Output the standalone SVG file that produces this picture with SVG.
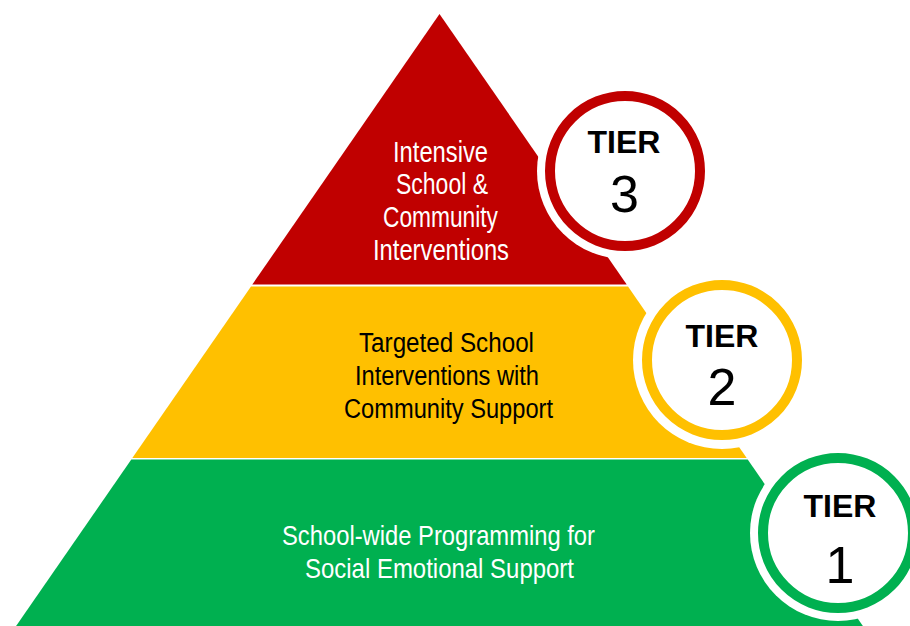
<svg xmlns="http://www.w3.org/2000/svg" width="910" height="626" viewBox="0 0 910 626">
  <style>
    .lbl { font-family: "Liberation Sans", Arial, sans-serif; text-anchor: middle; }
    .w { fill: #FFFFFF; }
    .k { fill: #000000; }
    .halo { fill: #FFFFFF; }
    .ring { fill: #FFFFFF; stroke-width: 10; }
    .tier { font-family: "Liberation Sans", Arial, sans-serif; font-weight: bold; font-size: 32px; text-anchor: middle; fill: #000000; }
    .num { font-family: "Liberation Sans", Arial, sans-serif; font-size: 52px; text-anchor: middle; fill: #000000; }
  </style>
  <rect width="910" height="626" fill="#FFFFFF"/>

  <g id="tier3-layer">
    <polygon points="439.5,14 626.7,284.5 252.3,284.5" fill="#C00000"/>
    <text class="lbl w" font-size="29" x="440.5" y="161.7" textLength="95" lengthAdjust="spacingAndGlyphs">Intensive</text>
    <text class="lbl w" font-size="29" x="442" y="193.5" textLength="92" lengthAdjust="spacingAndGlyphs">School &amp;</text>
    <text class="lbl w" font-size="29" x="440.5" y="226.7" textLength="115" lengthAdjust="spacingAndGlyphs">Community</text>
    <text class="lbl w" font-size="29" x="441" y="260" textLength="136" lengthAdjust="spacingAndGlyphs">Interventions</text>
  </g>

  <g id="tier2-layer">
    <polygon points="251,286.5 628,286.5 746.7,458 132.3,458" fill="#FFC000"/>
    <text class="lbl k" font-size="27" x="446.5" y="352" textLength="175" lengthAdjust="spacingAndGlyphs">Targeted School</text>
    <text class="lbl k" font-size="27" x="447" y="385" textLength="184" lengthAdjust="spacingAndGlyphs">Interventions with</text>
    <text class="lbl k" font-size="27" x="448.5" y="418" textLength="209" lengthAdjust="spacingAndGlyphs">Community Support</text>
  </g>

  <g id="tier1-layer">
    <polygon points="131.3,459.5 747.7,459.5 862.9,626 16.1,626" fill="#00B050"/>
    <text class="lbl w" font-size="28" x="438.5" y="545" textLength="313" lengthAdjust="spacingAndGlyphs">School-wide Programming for</text>
    <text class="lbl w" font-size="28" x="439.5" y="578" textLength="269" lengthAdjust="spacingAndGlyphs">Social Emotional Support</text>
  </g>

  <g id="badge-tier3">
    <circle class="halo" cx="625" cy="171" r="88"/>
    <circle class="ring" cx="625" cy="171" r="75" stroke="#C00000"/>
    <text class="tier" x="624" y="153">TIER</text>
    <text class="num" x="624.5" y="212">3</text>
  </g>

  <g id="badge-tier2">
    <circle class="halo" cx="722" cy="360" r="89"/>
    <circle class="ring" cx="722" cy="360" r="75" stroke="#FFC000"/>
    <text class="tier" x="722" y="347">TIER</text>
    <text class="num" x="722" y="405">2</text>
  </g>

  <g id="badge-tier1">
    <circle class="halo" cx="838" cy="533" r="88"/>
    <circle class="ring" cx="838" cy="533" r="75" stroke="#00B050"/>
    <text class="tier" x="840" y="517">TIER</text>
    <text class="num" x="840" y="583">1</text>
  </g>
</svg>
